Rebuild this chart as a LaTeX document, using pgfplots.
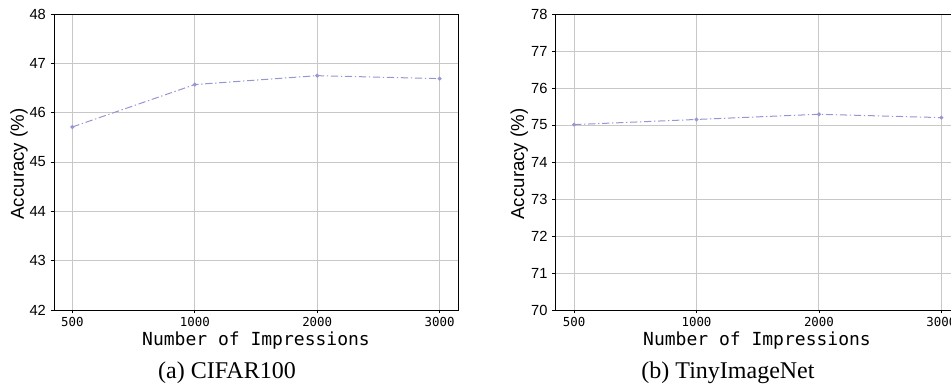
\documentclass[border=0pt]{standalone}
\usepackage{fontspec}
\setmainfont{Liberation Serif}
\newfontfamily\arial{Liberation Sans}
\newfontfamily\mono{DejaVu Sans Mono}
\usepackage{pgfplots}
\pgfplotsset{compat=1.18}
\definecolor{linec}{RGB}{150,150,210}
\definecolor{gridc}{RGB}{200,200,200}
\pgfplotsset{
  myax/.style={
    scale only axis, width=303pt, height=222pt,
    anchor=south west,
    xmin=-0.15, xmax=3.15,
    xtick={0,1,2,3}, xticklabels={500,1000,2000,3000},
    xticklabel style={font=\mono\fontsize{9.3}{10}\selectfont, yshift=1pt},
    yticklabel style={font=\arial\fontsize{11}{12}\selectfont},
    /pgf/number format/assume math mode=true,
    tick align=outside, major tick length=2.6pt,
    xtick pos=bottom, ytick pos=left,
    grid=major, major grid style={gridc, line width=0.75pt},
    axis line style={black, line width=0.6pt},
    tick style={black, line width=0.6pt},
  },
  myline/.style={linec, line width=0.75pt, dash pattern=on 5.5pt off 2pt on 1pt off 2pt,
    mark=*, mark size=1.1pt, mark options={solid, fill=linec, draw=linec}},
}
\begin{document}
\begin{tikzpicture}
\useasboundingbox (0,0) rectangle (713.25pt,287.25pt);
\clip (0,0) rectangle (713.25pt,287.25pt);
\begin{axis}[myax, at={(40.5pt,54.75pt)}, ymin=42, ymax=48, ytick={42,43,44,45,46,47,48}]
\addplot[myline] coordinates {(0,45.71) (1,46.57) (2,46.75) (3,46.69)};
\end{axis}
\begin{axis}[myax, at={(416.8pt,54.75pt)}, ymin=70, ymax=78, ytick={70,71,72,73,74,75,76,77,78}]
\addplot[myline] coordinates {(0,75.01) (1,75.15) (2,75.29) (3,75.20)};
\end{axis}
\node[rotate=90, font=\arial\fontsize{14}{16}\selectfont] at (14.25pt,164.25pt) {Accuracy (\%)};
\node[rotate=90, font=\arial\fontsize{14}{16}\selectfont] at (389.5pt,164.25pt) {Accuracy (\%)};
\node[anchor=base, inner sep=0pt, font=\mono\fontsize{13.5}{15}\selectfont] at (192pt,28pt) {Number of Impressions};
\node[anchor=base, inner sep=0pt, font=\mono\fontsize{13.5}{15}\selectfont] at (567.75pt,28pt) {Number of Impressions};
\node[anchor=base, inner sep=0pt, font=\fontsize{18}{20}\selectfont] at (170.25pt,3.5pt) {(a) CIFAR100};
\node[anchor=base, inner sep=0pt, font=\fontsize{18}{20}\selectfont] at (546pt,3.5pt) {(b) TinyImageNet};
\end{tikzpicture}
\end{document}
